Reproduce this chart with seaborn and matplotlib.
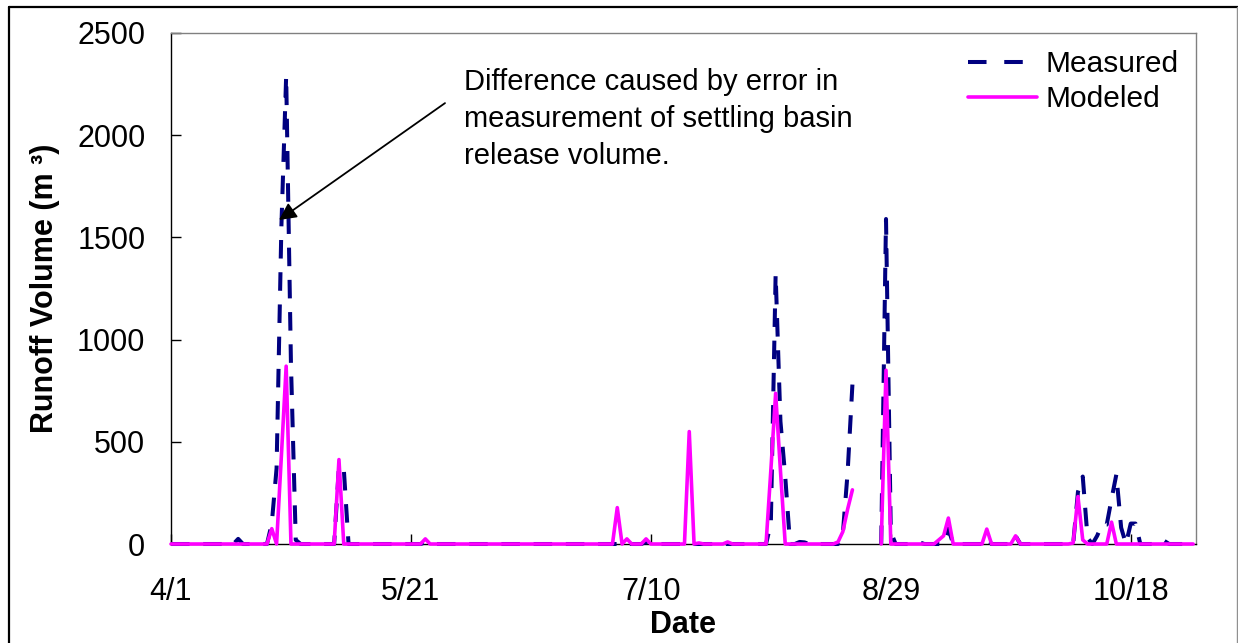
import numpy as np
import pandas as pd
import matplotlib
matplotlib.use("Agg")
import matplotlib.pyplot as plt
from matplotlib.lines import Line2D
import seaborn as sns

# ---- data: daily runoff volume (m^3), season starting 4/1 ----
season_start = "2003-04-01"
n_days = 214

measured_days = [14, 21, 22, 23, 24, 25, 26, 35, 36, 53, 95, 99,
                 125, 126, 127, 128, 131, 132, 140, 141, 142,
                 149, 150, 156, 162, 170, 176, 189, 190, 191,
                 193, 194, 195, 196, 197, 198, 200, 201, 206, 207, 212]
measured_values = [25, 100, 370, 1550, 2290, 877, 20, 380, 370, 8, 5, 10,
                   100, 1320, 600, 330, 10, 8, 50, 350, 780,
                   1590, 60, 8, 75, 30, 40, 255, 330, 30,
                   40, 95, 95, 220, 340, 80, 100, 100, 15, 15, 10]

modeled_days = [21, 23, 24, 35, 53, 93, 95, 99, 108, 110, 116,
                125, 126, 127, 139, 140, 141, 142,
                149, 160, 161, 162, 170, 176, 188, 189, 190, 196]
modeled_values = [75, 430, 870, 413, 25, 178, 25, 25, 550, 5, 10,
                  360, 737, 360, 10, 60, 170, 265,
                  850, 20, 40, 127, 73, 40, 5, 232, 20, 107]

missing_days = [143, 144, 145, 146, 147]

tick_days = [0, 50, 100, 150, 200]
tick_labels = ["4/1", "5/21", "7/10", "8/29", "10/18"]
y_ticks = [0, 500, 1000, 1500, 2000, 2500]

series_names = ["Measured", "Modeled"]
series_colors = ["#000080", "#FF00FF"]

dates = pd.date_range(season_start, periods=n_days, freq="D")


def daily_frame(days, values):
    v = np.zeros(n_days)
    v[days] = values
    v[missing_days] = np.nan
    seg = np.cumsum(np.isnan(v))
    df = pd.DataFrame({"date": dates, "volume": v, "segment": seg})
    return df.dropna()


measured = daily_frame(measured_days, measured_values)
modeled = daily_frame(modeled_days, modeled_values)

# ---- style ----
sns.set_style("white")
plt.rcParams["font.family"] = ["Liberation Sans", "DejaVu Sans"]
plt.rcParams.update({"text.color": "black", "axes.labelcolor": "black",
                     "xtick.color": "black", "ytick.color": "black"})
FS = 22

fig = plt.figure(figsize=(12.38, 6.43), dpi=100)
ax = fig.add_axes([171 / 1238, 1 - 544 / 643, (1196 - 171) / 1238, (544 - 33) / 643])

dash = (0, (4.6, 3.4))
sns.lineplot(data=measured, x="date", y="volume", units="segment", estimator=None,
             color=series_colors[0], linewidth=2.9, linestyle=dash, ax=ax,
             clip_on=False, zorder=3)
sns.lineplot(data=modeled, x="date", y="volume", units="segment", estimator=None,
             color=series_colors[1], linewidth=2.6, ax=ax,
             clip_on=False, zorder=4)

day = pd.Timedelta(days=1)
ax.set_xlim(dates[0], dates[0] + 213.6 * day)
ax.set_ylim(0, 2500)
ax.set_xticks([dates[d] for d in tick_days])
ax.set_xticklabels(tick_labels)
ax.set_yticks(y_ticks)
ax.set_yticklabels([str(t) for t in y_ticks])

ax.tick_params(axis="x", direction="in", length=7, width=1, color="black",
               labelsize=FS, pad=24, bottom=True, top=False)
ax.tick_params(axis="y", direction="in", length=7, width=1, color="black",
               labelsize=FS, pad=18.5, left=True, right=False)

for side in ["left", "bottom"]:
    ax.spines[side].set_color("black")
    ax.spines[side].set_linewidth(1.0)
for side in ["top", "right"]:
    ax.spines[side].set_color("#808080")
    ax.spines[side].set_linewidth(1.0)

ax.set_xlabel("Date", fontsize=FS, fontweight="bold", labelpad=2)
ax.set_ylabel("Runoff Volume (m \u00b3)", fontsize=FS, fontweight="bold", labelpad=12)

# legend
handles = [
    Line2D([], [], color=series_colors[0], linewidth=2.9, linestyle=(0, (4.6, 4.4))),
    Line2D([], [], color=series_colors[1], linewidth=2.6),
]
ax.legend(handles, series_names, loc="upper right", bbox_to_anchor=(0.998, 0.996),
          frameon=False, borderpad=0, fontsize=21.5, handlelength=2.3,
          handletextpad=0.3, labelspacing=0.25)

# annotation text and its arrow
ax.text(dates[0] + 61.0 * day, 2080,
        "Difference caused by error in\nmeasurement of settling basin\nrelease volume.",
        fontsize=21, ha="left", va="center", linespacing=1.4)
ax.annotate("", xy=(dates[0] + 22.5 * day, 1585),
            xytext=(dates[0] + 57.1 * day, 2157),
            arrowprops=dict(arrowstyle="-|>", color="black", lw=1.3,
                            mutation_scale=26, shrinkA=0, shrinkB=0))

# chart-area frame
W, H = 1238, 643
fig.add_artist(Line2D([9 / W, 9 / W], [0, 1 - 7 / H], transform=fig.transFigure,
                      color="black", linewidth=1.6))
fig.add_artist(Line2D([9 / W, 1], [1 - 7 / H, 1 - 7 / H], transform=fig.transFigure,
                      color="black", linewidth=1.6))
fig.add_artist(Line2D([1236.5 / W, 1236.5 / W], [0, 1 - 7 / H], transform=fig.transFigure,
                      color="#909090", linewidth=1.0))

fig.savefig("out.png", dpi=100)
